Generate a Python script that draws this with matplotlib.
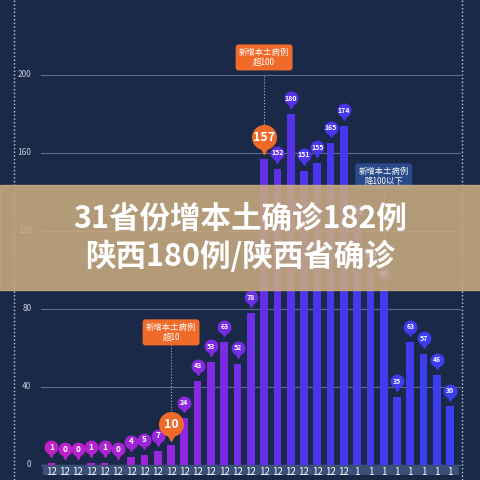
import numpy as np
import matplotlib
matplotlib.use("Agg")
import matplotlib.pyplot as plt
from matplotlib.colors import LinearSegmentedColormap
from matplotlib.patches import Rectangle

plt.rcParams['font.family'] = ['Noto Sans CJK SC', 'DejaVu Sans']

MONTHS = ["12"] * 23 + ["1"] * 8
CASES = [1, 0, 0, 1, 1, 0, 4, 5, 7, 10, 24, 43, 53, 63, 52, 78, 157, 152, 180,
         151, 155, 165, 174, 122, 100, 90, 35, 63, 57, 46, 30]
Y_TICKS = [0, 40, 80, 120, 160, 200]

BG = "#1a2947"
cmap = LinearSegmentedColormap.from_list("bars", ["#c21fc9", "#8d28e0", "#4a34ee", "#3a40f0"])

fig = plt.figure(figsize=(4.8, 4.8), dpi=100)
fig.patch.set_facecolor(BG)
ax = fig.add_axes([0.085, 0.011, 0.875, 0.975])
ax.set_facecolor(BG)

n = len(CASES)
x = np.arange(n)
colors = [cmap(i / (n - 1)) for i in range(n)]
ax.set_xlim(-0.8, n - 0.2)
ax.set_ylim(-5, 235)

for t in Y_TICKS:
    ax.axhline(t, color="#8a9ab8", lw=0.8, alpha=0.6, zorder=0)
    ax.text(-1.5, t, str(t), color="#c8d0e0", fontsize=6, ha="right", va="center")

# bottom band for dates
ax.add_patch(Rectangle((-0.6, -5), n + 0.2, 5, color="#3b5078", zorder=1))
ax.bar(x, CASES, width=0.58, color=colors, zorder=2)

for i, v in enumerate(CASES):
    ax.text(i, -3.5, MONTHS[i], color="white", fontsize=7, ha="center", va="center", zorder=4)
    if i in (9, 16):
        ax.plot(i, v + 11, marker="o", ms=17, color="#f06a2a", zorder=3)
        ax.plot(i, v + 5, marker="v", ms=7, color="#f06a2a", zorder=3)
        ax.text(i, v + 11, str(v), color="white", fontsize=9, ha="center", va="center",
                fontweight="bold", zorder=4)
        continue
    ax.plot(i, v + 8, marker="o", ms=9, color=colors[i], zorder=3)
    ax.plot(i, v + 4.5, marker="v", ms=4, color=colors[i], zorder=3)
    ax.text(i, v + 8, str(v), color="white", fontsize=5 if v >= 10 else 6,
            ha="center", va="center", fontweight="bold", zorder=4)

# callouts
ax.plot([9, 9], [22, 62], ls=":", color="#aab4c8", lw=0.8)
ax.text(9, 68, "新增本土病例\n超10", color="white", fontsize=6, ha="center", va="center",
        bbox=dict(boxstyle="round,pad=0.4", fc="#f06a2a", ec="none"))
ax.plot([16, 16], [170, 200], ls=":", color="#aab4c8", lw=0.8)
ax.text(16, 209, "新增本土病例\n超100", color="white", fontsize=6, ha="center", va="center",
        bbox=dict(boxstyle="round,pad=0.4", fc="#f06a2a", ec="none"))
ax.plot([25, 25], [105, 140], ls=":", color="#aab4c8", lw=0.8)
ax.text(25, 148, "新增本土病例\n降100以下", color="white", fontsize=6, ha="center", va="center",
        bbox=dict(boxstyle="round,pad=0.4", fc="#2a4a8a", ec="none"))

for s in ax.spines.values():
    s.set_visible(False)
ax.set_xticks([])
ax.set_yticks([])

# dotted side lines
fig.add_artist(plt.Line2D([0.03, 0.03], [0, 1], ls=":", color="#c8d0e0", lw=1))
fig.add_artist(plt.Line2D([0.963, 0.963], [0, 1], ls=":", color="#c8d0e0", lw=1))

# title banner overlay
fig.add_artist(Rectangle((0, 0.396), 1, 0.219, transform=fig.transFigure,
                         color="#c9ab80", alpha=0.88, zorder=10))
fig.text(0.5, 0.505, "31省份增本土确诊182例\n陕西180例/陕西省确诊", color="white",
         fontsize=22, fontweight="bold", ha="center", va="center", linespacing=1.25, zorder=11)

fig.savefig("out.png", dpi=100, facecolor=BG)
